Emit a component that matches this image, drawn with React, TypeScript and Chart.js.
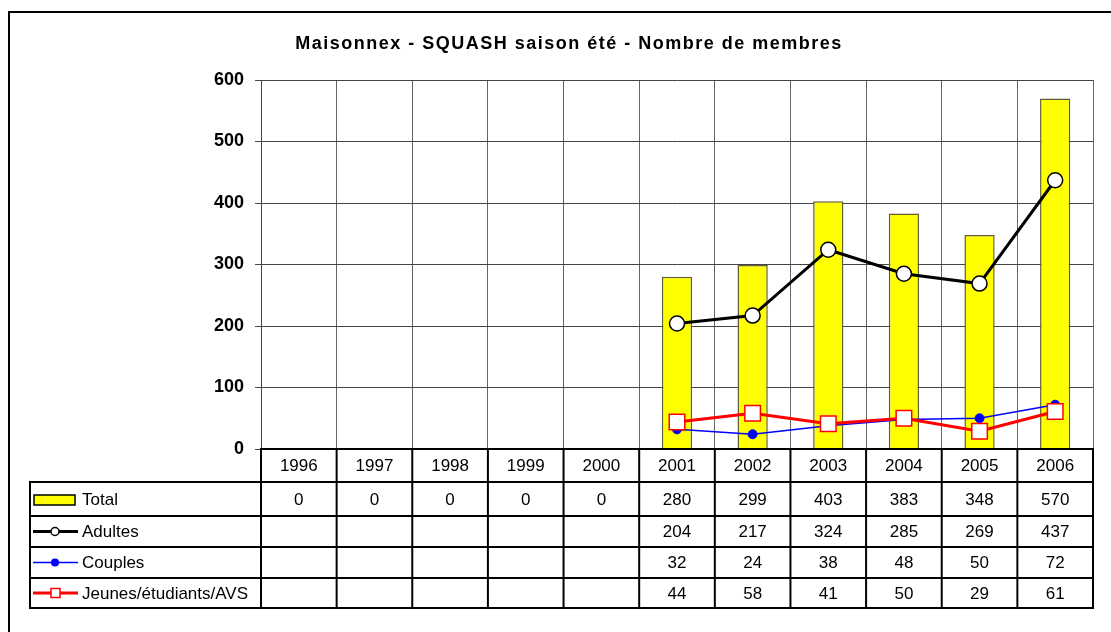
import React, { useEffect, useRef } from "react";
import { Chart, registerables } from "chart.js";

Chart.register(...registerables);

const titleText = "Maisonnex - SQUASH saison été - Nombre de membres";
const years = ["1996", "1997", "1998", "1999", "2000", "2001", "2002", "2003", "2004", "2005", "2006"];
const total = [0, 0, 0, 0, 0, 280, 299, 403, 383, 348, 570];
const adultes = [null, null, null, null, null, 204, 217, 324, 285, 269, 437];
const couples = [null, null, null, null, null, 32, 24, 38, 48, 50, 72];
const jeunes = [null, null, null, null, null, 44, 58, 41, 50, 29, 61];
const seriesNames = ["Total", "Adultes", "Couples", "Jeunes/étudiants/AVS"];
const yMin = 0;
const yMax = 600;
const yStep = 100;

const FONT = "'Liberation Sans', Arial, Helvetica, sans-serif";

const tablePlugin = {
  id: "dataTable",
  afterDraw(chart: any) {
    const { ctx, chartArea } = chart;
    const xs = chart.scales.x;
    const n = years.length;
    const left = chartArea.left;
    const right = chartArea.right;
    const top0 = chartArea.bottom;
    const catW = (right - left) / n;
    const legendLeft = 30;
    const rows = [top0, top0 + 33, top0 + 67, top0 + 98, top0 + 129, top0 + 159];

    ctx.save();
    // outer chart frame
    ctx.fillStyle = "#000";
    ctx.fillRect(8, 11, 2, 800);
    ctx.fillRect(8, 11, 1300, 2);

    // title
    ctx.fillStyle = "#000";
    ctx.font = `bold 18px ${FONT}`;
    ctx.textAlign = "center";
    ctx.textBaseline = "middle";
    try { (ctx as any).letterSpacing = "1.5px"; } catch (e) {}
    ctx.fillText(titleText, 569, 44);
    try { (ctx as any).letterSpacing = "0px"; } catch (e) {}

    // table grid
    ctx.strokeStyle = "#000";
    ctx.lineWidth = 2;
    const line = (x1: number, y1: number, x2: number, y2: number) => {
      ctx.beginPath();
      ctx.moveTo(x1, y1);
      ctx.lineTo(x2, y2);
      ctx.stroke();
    };
    line(left - 1, rows[0], right + 1, rows[0]);
    for (let i = 1; i < rows.length; i++) line(legendLeft - 1, rows[i], right + 1, rows[i]);
    line(legendLeft, rows[1], legendLeft, rows[rows.length - 1]);
    for (let k = 0; k <= n; k++) {
      const bx = left + k * catW;
      line(bx, rows[0], bx, rows[rows.length - 1]);
    }

    // cell text
    ctx.font = `17px ${FONT}`;
    ctx.fillStyle = "#000";
    ctx.textAlign = "center";
    ctx.textBaseline = "middle";
    const seriesData = [total, adultes, couples, jeunes];
    for (let i = 0; i < n; i++) {
      const cx = xs.getPixelForValue(i);
      ctx.fillText(years[i], cx, (rows[0] + rows[1]) / 2 + 1);
      seriesData.forEach((arr, r) => {
        const v = arr[i];
        if (v !== null && v !== undefined) {
          ctx.fillText(String(v), cx, (rows[r + 1] + rows[r + 2]) / 2 + 1);
        }
      });
    }

    // legend keys
    ctx.textAlign = "left";
    seriesNames.forEach((name, r) => {
      const cy = (rows[r + 1] + rows[r + 2]) / 2;
      ctx.fillStyle = "#000";
      ctx.fillText(name, 82, cy + 1);
    });
    // Total key
    let cy = (rows[1] + rows[2]) / 2 + 1;
    ctx.fillStyle = "#FFFF00";
    ctx.fillRect(34, cy - 5, 41, 10);
    ctx.lineWidth = 1.5;
    ctx.strokeStyle = "#000";
    ctx.strokeRect(34, cy - 5, 41, 10);
    // Adultes key
    cy = (rows[2] + rows[3]) / 2;
    ctx.strokeStyle = "#000";
    ctx.lineWidth = 3;
    line(33, cy, 78, cy);
    ctx.beginPath();
    ctx.arc(55, cy, 4, 0, Math.PI * 2);
    ctx.fillStyle = "#fff";
    ctx.fill();
    ctx.lineWidth = 1.5;
    ctx.stroke();
    // Couples key
    cy = (rows[3] + rows[4]) / 2;
    ctx.strokeStyle = "#0000FF";
    ctx.lineWidth = 1.5;
    line(33, cy, 78, cy);
    ctx.beginPath();
    ctx.arc(55, cy, 4, 0, Math.PI * 2);
    ctx.fillStyle = "#0000FF";
    ctx.fill();
    // Jeunes key
    cy = (rows[4] + rows[5]) / 2;
    ctx.strokeStyle = "#FF0000";
    ctx.lineWidth = 3;
    line(33, cy, 78, cy);
    ctx.fillStyle = "#fff";
    ctx.fillRect(51, cy - 4.5, 9, 9);
    ctx.lineWidth = 1.5;
    ctx.strokeRect(51, cy - 4.5, 9, 9);

    ctx.restore();
  },
};

export default function App() {
  const ref = useRef<HTMLCanvasElement | null>(null);
  useEffect(() => {
    if (!ref.current) return;
    const chart = new Chart(ref.current, {
      type: "bar",
      data: {
        labels: years,
        datasets: [
          {
            type: "line",
            label: seriesNames[1],
            data: adultes,
            borderColor: "#000000",
            borderWidth: 3,
            pointStyle: "circle",
            pointRadius: 7.5,
            pointBackgroundColor: "#FFFFFF",
            pointBorderColor: "#000000",
            pointBorderWidth: 1.5,
            order: 1,
          } as any,
          {
            type: "line",
            label: seriesNames[3],
            data: jeunes,
            borderColor: "#FF0000",
            borderWidth: 3,
            pointStyle: "rect",
            pointRadius: 11,
            pointBackgroundColor: "#FFFFFF",
            pointBorderColor: "#FF0000",
            pointBorderWidth: 1.5,
            order: 2,
          },
          {
            type: "line",
            label: seriesNames[2],
            data: couples,
            borderColor: "#0000FF",
            borderWidth: 1.5,
            pointStyle: "circle",
            pointRadius: 4.5,
            pointBackgroundColor: "#0000FF",
            pointBorderColor: "#0000FF",
            pointBorderWidth: 1,
            order: 3,
          },
          {
            type: "bar",
            label: seriesNames[0],
            data: total,
            backgroundColor: "#FFFF00",
            borderColor: "#5e5e30",
            borderWidth: 1.5,
            barPercentage: 0.4,
            categoryPercentage: 1,
            order: 4,
          },
        ],
      },
      options: {
        responsive: false,
        animation: false,
        layout: { padding: { left: 0, right: 18, top: 80, bottom: 183 } },
        plugins: {
          legend: { display: false },
          tooltip: { enabled: false },
          title: { display: false },
        },
        scales: {
          x: {
            ticks: { display: false },
            grid: { color: "#666", lineWidth: 1, drawTicks: false, offset: true },
            border: { display: false },
          },
          y: {
            min: yMin,
            max: yMax,
            afterFit: (s: any) => {
              s.width = 261;
            },
            ticks: {
              stepSize: yStep,
              padding: 11,
              color: "#000",
              font: { family: FONT, size: 18, weight: "bold" },
            },
            grid: { color: "#444", lineWidth: 1, tickLength: 6 },
            border: { color: "#444", width: 1 },
          },
        },
      },
      plugins: [tablePlugin],
    });
    return () => chart.destroy();
  }, []);
  return (
    <div style={{ position: "absolute", left: 0, top: 0, width: 1111, height: 632, background: "#fff" }}>
      <canvas ref={ref} width={1111} height={632} style={{ display: "block" }} />
    </div>
  );
}
